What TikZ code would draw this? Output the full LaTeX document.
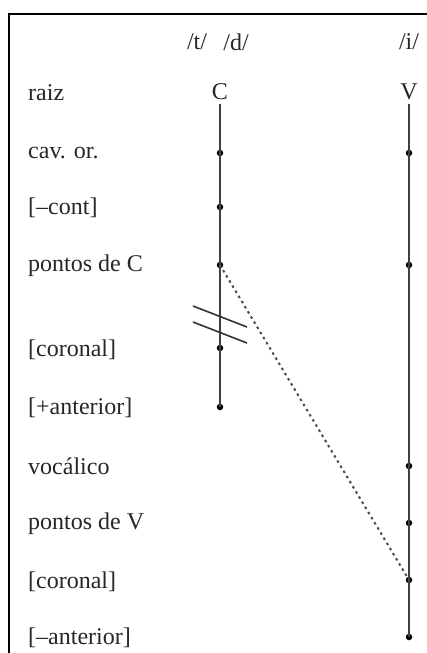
\documentclass[tikz,border=0pt]{standalone}
\usepackage{fontspec}
\setmainfont{Liberation Serif}
\begin{document}
\begin{tikzpicture}[x=1pt,y=-1pt,
  lab/.style={anchor=west,inner sep=0pt,font=\fontsize{24}{28}\selectfont,text=black!85},
  seg/.style={inner sep=0pt,font=\fontsize{24}{28}\selectfont,text=black!85},
  tier/.style={line width=1.8pt,draw=black!75},
  dotn/.style={circle,fill=black,inner sep=0pt,minimum size=6.5pt},
  assoc/.style={line width=2pt,draw=black!70,dash pattern=on 2.5pt off 3.5pt},
  cut/.style={line width=1.6pt,draw=black!80}]
\useasboundingbox (0,0) rectangle (427,653);
% frame
\draw[line width=2pt] (9,653) -- (9,14) -- (427,14);
% header segments
\node[seg] (t) at (197,42) {/t/};
\node[seg] (d) at (236,42) {/d/};
\node[seg] (i) at (409,42) {/i/};
% row labels
\node[lab] (l1) at (28,93) {raiz};
\node[lab] (l2) at (28,153) {cav. or.};
\node[lab] (l3) at (28,208) {[--cont]};
\node[lab] (l4) at (28,266) {pontos de C};
\node[lab] (l5) at (28,350) {[coronal]};
\node[lab] (l6) at (28,408) {[+anterior]};
\node[lab] (l7) at (28,466) {vocálico};
\node[lab] (l8) at (28,524) {pontos de V};
\node[lab] (l9) at (28,582) {[coronal]};
\node[lab] (l10) at (28,638) {[--anterior]};
% root nodes
\node[seg] (C) at (220,92) {C};
\node[seg] (V) at (409,92) {V};
% C tier dots
\node[dotn] (c2) at (220,153) {};
\node[dotn] (c3) at (220,207) {};
\node[dotn] (c4) at (220,265) {};
\node[dotn] (c5) at (220,348) {};
\node[dotn] (c6) at (220,407) {};
% V tier dots
\node[dotn] (v2) at (409,153) {};
\node[dotn] (v4) at (409,265) {};
\node[dotn] (v7) at (409,466) {};
\node[dotn] (v8) at (409,523) {};
\node[dotn] (v9) at (409,580) {};
\node[dotn] (v10) at (409,637) {};
% tiers
\draw[tier] ([yshift=-4pt]C.south) -- (c6.center);
\draw[tier] ([yshift=-4pt]V.south) -- (v10.center);
% association (spreading) line
\draw[assoc] (c4.center) -- (v9.center);
% delinking marks
\coordinate (x1a) at (193,306);
\coordinate (x1b) at (247,327);
\coordinate (x2a) at (193,322);
\coordinate (x2b) at (247,343);
\draw[cut] (x1a) -- (x1b);
\draw[cut] (x2a) -- (x2b);
\end{tikzpicture}
\end{document}
